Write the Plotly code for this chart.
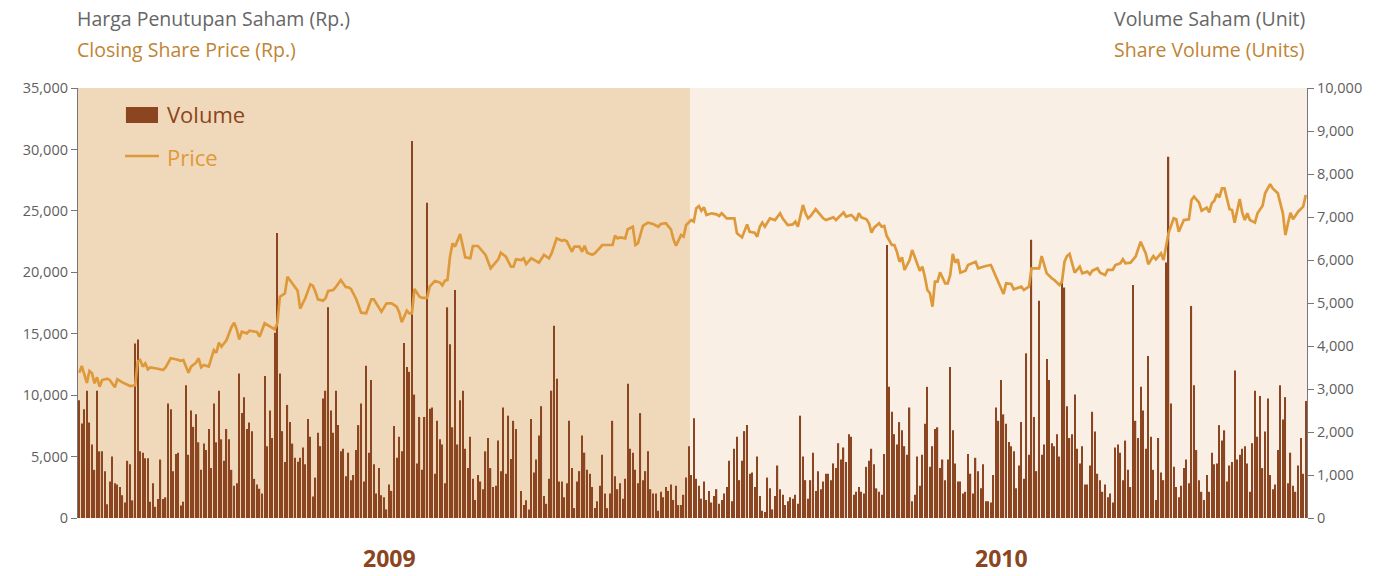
import plotly.graph_objects as go

# ---------------- data ----------------
volume_2009 = [
    2740,2200,2530,2960,2220,1710,1120,2960,1550,1550,
    1090,320,850,1430,810,780,720,530,360,1330,
    1250,410,4060,4150,1550,1520,1390,1390,380,810,
    260,440,1360,440,480,2660,2530,1090,1490,1520,
    290,380,3090,1470,2500,2120,2410,1760,1120,1730,
    1580,2070,1160,2660,1760,2960,1830,1330,2070,1830,
    1120,750,810,3360,2440,2810,2070,2220,2020,910,
    780,680,570,3300,1670,2500,1860,4310,6630,3360,
    2020,1300,2630,2230,1730,1400,1310,1400,1640,1250,
    2300,1890,500,940,1980,
    1670,2780,2960,4900,2500,1980,2960,2160,1550,1610,
    970,1520,880,1000,1580,2160,2660,850,3540,1520,
    3210,1250,570,1160,530,480,200,780,630,2140,
    1400,1890,1550,4070,3510,3400,8770,2870,1270,2350,
    1120,2350,7330,2540,2570,1030,2260,1830,1710,810,
    4900,4040,2110,5300,1710,2740,2960,1610,1160,1890,
    910,420,1000,850,670,1550,1860,1160,720,750,
    1800,1090,2570,1030,2380,1370,2260,2070,0,630,
    300,410,200,2300,1060,1360,1920,2600,510,330,
    910,2960,4470,3240,850,850,480,
    810,2260,1160,230,850,1090,1920,1520,1120,1030,
    720,230,390,750,1470,570,230,570,2260,970,
    670,810,450,910,3120,1610,1520,1120,810,2440,
    880,1090,1550,670,570,570,170,610,480,720,
    630,780,420,750,300,300,540,940,1670,
]
volume_2010 = [
    1000,2320,910,750,450,850,420,630,360,510,
    670,330,420,570,720,1330,390,1610,1890,880,
    1330,2020,2160,1030,1060,720,1430,510,170,140,
    940,690,200,510,1220,670,540,300,390,480,
    450,540,330,2380,1430,880,450,880,
    1520,630,1090,670,850,1030,1030,880,1270,1160,
    1740,1360,1640,1300,1950,1890,540,610,720,610,
    570,1190,1330,1610,1250,690,610,540,1490,6350,
    3050,2470,1950,1710,2230,2040,1670,1470,2570,390,
    540,1430,750,1470,2190,3050,1190,1670,2070,2110,
    1160,1360,880,1360,3510,2040,1270,850,850,570,
    610,1490,1030,570,1400,1090,690,1250,390,390,
    360,1000,2570,2260,3210,2410,2190,1770,1670,1550,
    690,1220,2230,910,3830,1470,6470,2350,1090,5050,
    1470,1710,3700,3210,1740,1670,1950,
    1430,5510,5360,2600,1860,1950,2870,1610,1270,1670,
    780,780,1220,2470,2010,1030,880,610,780,480,
    570,360,1640,1710,1520,880,1800,1120,720,5420,
    2260,1860,3050,2500,1610,3770,1890,1120,420,1860,
    1060,880,5940,8400,2660,1190,720,480,750,1160,
    1360,810,4930,3090,1580,880,610,420,1000,610,
    1520,1250,1270,2160,1800,2040,850,1220,1300,3430,
    1360,1470,1610,1670,1270,610,1740,2960,1890,2840,
    1160,2010,2780,1000,670,780,1580,3090,2290,2810,
    810,1520,750,610,1220,1860,1030,2720,
]

# trading-day index of each closing-price observation and the price
price_day = [0,1,3,4,5,6,7,8,9,11,12,14,15,17,20,22,23,24,25,26,27,28,31,33,34,36,38,40,41,43,44,46,47,48,49,51,53,54,55,56,58,60,61,62,63,64,66,67,70,71,73,75,77,78,79,80,81,82,84,86,87,89,91,92,93,94,96,97,98,100,101,103,105,106,107,108,109,111,113,115,116,119,121,123,125,126,127,129,130,131,132,134,135,137,138,140,142,143,144,145,146,147,148,150,151,152,154,155,157,159,160,162,164,165,166,168,170,171,172,174,175,176,178,179,181,183,185,186,188,190,191,192,194,195,197,198,199,200,202,203,206,208,210,211,212,213,215,216,218,219,220,222,224,226,228,229,231,233,234,235,237,238,239,241,242,243,244,245,246,247,249,251,252,253,255,258,259,261,263,264,266,267,268,269,270,272,274,276,277,279,281,282,283,285,286,287,288,290,291,293,294,297,298,301,302,304,305,306,307,308,310,311,312,313,315,316,317,318,320,321,322,323,324,325,327,328,329,331,332,333,334,335,336,337,338,339,341,342,343,344,345,346,347,349,350,352,353,354,355,357,359,361,363,364,365,367,368,370,371,372,374,375,376,378,379,380,381,383,384,386,387,388,389,390,391,392,394,395,397,398,399,401,402,404,405,407,408,410,411,412,414,416,418,420,421,423,424,426,427,429,431,432,433,435,437,438,439,441,442,444,445,446,447,448,449,450,451,453,454,455,457,458,459,460,461,463,464,466,467,469,470,472,474,475,476,477,478,480,482,483]
price = [11830,12370,11000,11960,11780,10960,11450,10690,11230,11340,11230,10640,11290,11040,10740,10800,12720,12860,12320,12590,12100,12260,12150,12050,12260,13000,12920,12800,12860,11830,12320,12640,13000,12260,12450,12320,13670,13450,14270,13940,14490,15570,15900,15360,14540,15160,15030,15240,15140,14760,15850,15570,15360,15850,18010,18150,18290,19640,19100,18500,17040,17880,19020,18910,18420,17800,17690,17880,18480,18560,18780,19370,18780,18780,18640,18290,17850,16710,16660,17800,17800,16790,17470,17470,17200,16740,15930,16880,16660,16660,18640,18010,17910,17910,18830,19290,19180,18940,19320,19370,21270,22360,22090,23120,22090,21220,21140,22140,22140,21680,21410,20320,20780,21060,21590,21270,20460,20460,21060,21000,21140,20670,21140,21000,20780,21410,21140,21540,22760,22570,22630,22520,21680,22090,22090,21680,22160,21590,21430,21540,22220,22220,22220,22980,22760,22840,22760,23500,23710,22220,22360,23790,24040,23930,23710,23930,23990,23500,22680,22160,23030,22900,23850,24250,24120,25210,25390,25010,25290,24660,24800,24720,24580,24800,24390,24390,23170,22840,23900,23300,23220,22900,23710,24040,23710,24390,24250,24800,24390,23850,23900,24120,23710,25480,24800,24390,24580,25130,24860,24390,24250,24470,24250,24880,24530,24660,24470,24200,24800,24470,24310,23990,23220,23630,23990,23710,23770,22950,22220,22220,21680,20860,21220,20190,21000,21810,21270,20130,20460,19640,18560,18290,17200,19240,19240,20000,19100,19100,19780,21490,20780,21060,19970,20130,20590,20730,20860,20320,20400,20510,20590,19640,18560,18230,19100,19050,18610,18780,18830,18560,18830,20320,20320,20320,21320,20670,19910,19510,19370,18960,19240,20860,21320,21490,20730,19970,20460,19910,20050,19830,20130,20320,19970,19780,20190,20190,20590,20730,21060,20730,20780,21270,22490,21540,20650,21320,21060,21540,21000,23220,24390,24310,23300,24250,24310,25880,26150,25660,25010,25260,24880,25620,25830,26370,26100,26830,26830,25130,25070,24040,25960,24850,24250,24800,24250,24040,24800,25420,26430,27180,26830,26430,24800,23030,23990,24850,24310,24930,25340,26290]

years = ["2009", "2010"]
price_ticks = list(range(0, 35001, 5000))
volume_ticks = list(range(0, 10001, 1000))

assert len(price_day) == len(price), (len(price_day), len(price))

# ---------------- styling ----------------
FONT = "Open Sans"
BROWN = "#8B4520"
GOLD = "#DE993A"
TITLE_GOLD = "#BF8433"
GREY = "#666666"
TICK_GREY = "#5E5E5E"
BG_2009 = "#F0D9BA"
BG_2010 = "#F9EFE4"

volume = volume_2009 + volume_2010
n09 = len(volume_2009)
n = len(volume)
days = list(range(n))

fig = go.Figure()
fig.add_trace(go.Bar(
    x=days, y=volume, name="Volume", yaxis="y",
    marker=dict(color=BROWN, line=dict(width=0)),
    showlegend=False,
))
fig.add_trace(go.Scatter(
    x=price_day, y=price, name="Price", yaxis="y2", mode="lines",
    line=dict(color=GOLD, width=2.7), showlegend=False,
))

# year background bands
fig.add_shape(type="rect", xref="x", yref="paper", x0=-0.5, x1=n09 - 0.5, y0=0, y1=1,
              fillcolor=BG_2009, line=dict(width=0), layer="below")
fig.add_shape(type="rect", xref="x", yref="paper", x0=n09 - 0.5, x1=n - 0.5, y0=0, y1=1,
              fillcolor=BG_2010, line=dict(width=0), layer="below")

axis_common = dict(
    showgrid=False, zeroline=False, showline=True, linecolor="#777777", linewidth=1.2,
    ticks="outside", ticklen=6, tickcolor="#777777", tickwidth=1.2,
    tickfont=dict(family=FONT, size=14.5, color=TICK_GREY), tickformat=",",
)

fig.update_layout(
    width=1384, height=576,
    margin=dict(l=78, r=77, t=88, b=58),
    paper_bgcolor="white", plot_bgcolor="rgba(0,0,0,0)",
    bargap=0.5,
    xaxis=dict(range=[-0.5, n - 0.5], showgrid=False, zeroline=False,
               showticklabels=False, ticks="", showline=False),
    yaxis=dict(range=[0, 10000], tickvals=volume_ticks, side="right", **axis_common),
    yaxis2=dict(range=[0, 35000], tickvals=price_ticks, side="left",
                overlaying="y", **axis_common),
    font=dict(family=FONT),
)

# axis titles
TS = 19.5
fig.add_annotation(text="Harga Penutupan Saham (Rp.)", xref="paper", yref="paper",
                   x=0, y=1, xanchor="left", yanchor="middle", xshift=-3, yshift=70,
                   showarrow=False, font=dict(family=FONT, size=TS, color=GREY))
fig.add_annotation(text="Closing Share Price (Rp.)", xref="paper", yref="paper",
                   x=0, y=1, xanchor="left", yanchor="middle", xshift=-3, yshift=39,
                   showarrow=False, font=dict(family=FONT, size=TS, color=TITLE_GOLD))
fig.add_annotation(text="Volume Saham (Unit)", xref="paper", yref="paper",
                   x=1, y=1, xanchor="right", yanchor="middle", xshift=0, yshift=70,
                   showarrow=False, font=dict(family=FONT, size=TS, color=GREY))
fig.add_annotation(text="Share Volume (Units)", xref="paper", yref="paper",
                   x=1, y=1, xanchor="right", yanchor="middle", xshift=0, yshift=39,
                   showarrow=False, font=dict(family=FONT, size=TS, color=TITLE_GOLD))

# year labels
fig.add_annotation(text="<b>%s</b>" % years[0], xref="x", yref="paper",
                   x=(n09 - 1) / 2 + 2, y=0, yanchor="middle", yshift=-40,
                   showarrow=False, font=dict(family=FONT, size=23, color=BROWN))
fig.add_annotation(text="<b>%s</b>" % years[1], xref="x", yref="paper",
                   x=(n09 + n - 1) / 2 + 1, y=0, yanchor="middle", yshift=-40,
                   showarrow=False, font=dict(family=FONT, size=23, color=BROWN))

# legend (drawn)
fig.add_shape(type="rect", xref="paper", yref="paper", x0=0.039, x1=0.0651, y0=0.9186, y1=0.9558,
              fillcolor=BROWN, line=dict(width=0))
fig.add_shape(type="line", xref="paper", yref="paper", x0=0.0383, x1=0.0659, y0=0.8419, y1=0.8419,
              line=dict(color=GOLD, width=2.7))
fig.add_annotation(text="Volume", xref="paper", yref="paper", x=0.0708, y=0.9395,
                   xanchor="left", yanchor="middle", showarrow=False,
                   font=dict(family=FONT, size=22, color=BROWN))
fig.add_annotation(text="Price", xref="paper", yref="paper", x=0.0708, y=0.8395,
                   xanchor="left", yanchor="middle", showarrow=False,
                   font=dict(family=FONT, size=22, color=GOLD))

fig.write_html("out.html", config={"displayModeBar": False},
               post_script="document.body.style.margin='0';")
